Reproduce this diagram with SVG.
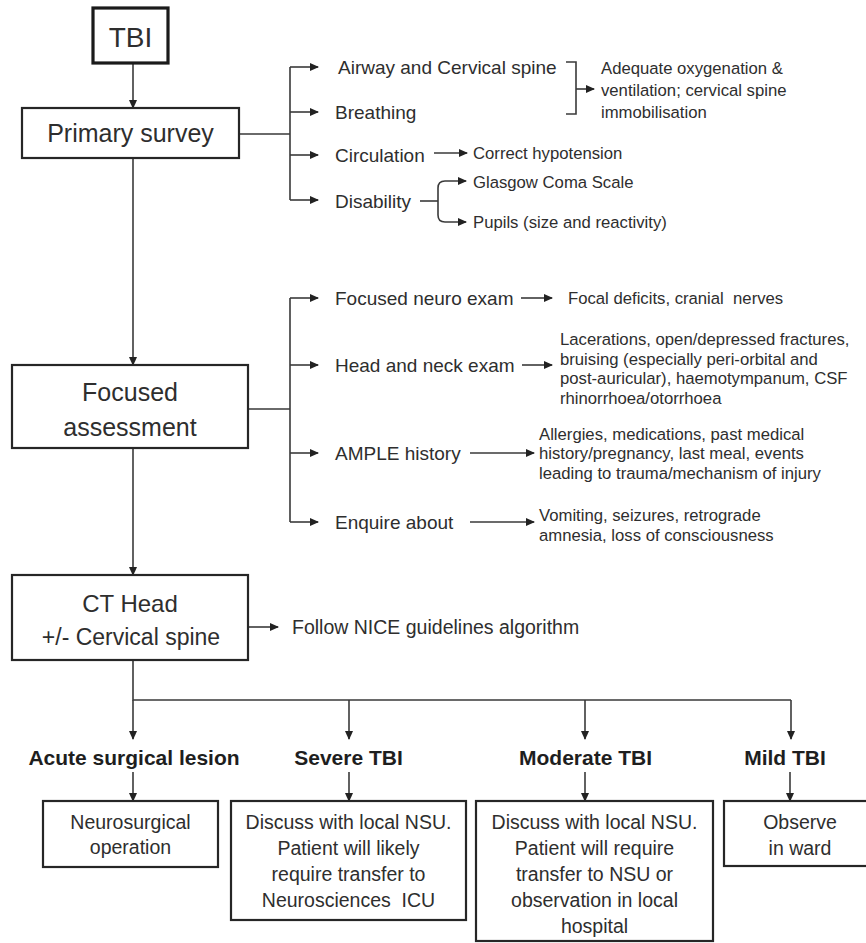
<svg xmlns="http://www.w3.org/2000/svg" width="866" height="943" viewBox="0 0 866 943">
<defs>
<marker id="ah" markerWidth="9" markerHeight="8" refX="8" refY="4" orient="auto" markerUnits="userSpaceOnUse">
<path d="M0,0 L9,4 L0,8 z" fill="#222"/>
</marker>
<style>
.box{fill:#fff;stroke:#262626;stroke-width:2.2}
.c{fill:none;stroke:#3a3a3a;stroke-width:1.6}
.a{marker-end:url(#ah)}
text{font-family:"Liberation Sans",Arial,sans-serif;fill:#2e2e2e;white-space:pre}
.big{font-size:25px;text-anchor:middle}
.lbl{font-size:19px}
.sm{font-size:16.7px}
.bt{font-size:19.5px;text-anchor:middle}
.hd{font-size:21px;font-weight:bold;text-anchor:middle;fill:#1e1e1e}
</style>
</defs>
<rect width="866" height="943" fill="#fff"/>

<g id="connectors">
<path class="c a" d="M133,63 V108"/>
<path class="c a" d="M133,158 V365"/>
<path class="c a" d="M133,448 V575"/>
<path class="c" d="M239,134 H290 M290,67 V200"/>
<path class="c a" d="M290,67 H318"/>
<path class="c a" d="M290,112 H318"/>
<path class="c a" d="M290,155 H318"/>
<path class="c a" d="M290,200 H318"/>
<path class="c" d="M566,62 H576 V114 H566"/>
<path class="c a" d="M576,89 H594"/>
<path class="c a" d="M434,153 H467"/>
<path class="c" d="M420,201 H438"/>
<path class="c a" d="M438,201 V188 Q438,181 445,181 H466"/>
<path class="c a" d="M438,201 V215 Q438,222 445,222 H466"/>
<path class="c" d="M248,409 H290 M290,298 V522"/>
<path class="c a" d="M290,298 H318"/>
<path class="c a" d="M290,365 H318"/>
<path class="c a" d="M290,453 H318"/>
<path class="c a" d="M290,522 H318"/>
<path class="c a" d="M521,298 H552"/>
<path class="c a" d="M522,365 H552"/>
<path class="c a" d="M470,453 H534"/>
<path class="c a" d="M470,522 H534"/>
<path class="c a" d="M248,627 H278"/>
<path class="c" d="M133,660 V700 H791"/>
<path class="c a" d="M133,700 V739"/>
<path class="c a" d="M349,700 V739"/>
<path class="c a" d="M585,700 V739"/>
<path class="c a" d="M791,700 V739"/>
<path class="c a" d="M133,772 V801"/>
<path class="c a" d="M349,772 V801"/>
<path class="c a" d="M585,772 V801"/>
<path class="c a" d="M790,772 V801"/>
</g>

<g id="tbi">
<rect x="93" y="8" width="75" height="55" fill="#fff" stroke="#1a1a1a" stroke-width="3.2"/>
<text x="130.5" y="47" style="font-size:28px;text-anchor:middle">TBI</text>
</g>

<g id="primary-survey">
<rect class="box" x="22" y="108" width="217" height="50"/>
<text class="big" x="130.5" y="142">Primary survey</text>
</g>

<g id="airway"><text class="lbl" x="338" y="74">Airway and Cervical spine</text></g>
<g id="breathing"><text class="lbl" x="335" y="119">Breathing</text></g>
<g id="circulation"><text class="lbl" x="335" y="162">Circulation</text></g>
<g id="disability"><text class="lbl" x="335" y="208">Disability</text></g>

<g id="oxygenation">
<text class="sm" x="601" y="74">Adequate oxygenation &amp;</text>
<text class="sm" x="601" y="96">ventilation; cervical spine</text>
<text class="sm" x="601" y="118">immobilisation</text>
</g>
<g id="hypotension"><text class="sm" x="473" y="159">Correct hypotension</text></g>
<g id="gcs"><text class="sm" x="473" y="188">Glasgow Coma Scale</text></g>
<g id="pupils"><text class="sm" x="473" y="228">Pupils (size and reactivity)</text></g>

<g id="focused-assessment">
<rect class="box" x="12" y="365" width="236" height="83"/>
<text class="big" x="130" y="401">Focused</text>
<text class="big" x="130" y="436">assessment</text>
</g>

<g id="neuro-exam"><text class="lbl" x="335" y="305">Focused neuro exam</text></g>
<g id="head-neck"><text class="lbl" x="335" y="372">Head and neck exam</text></g>
<g id="ample"><text class="lbl" x="335" y="460">AMPLE history</text></g>
<g id="enquire"><text class="lbl" x="335" y="529">Enquire about</text></g>

<g id="focal"><text class="sm" x="568" y="304">Focal deficits, cranial  nerves</text></g>
<g id="lacerations">
<text class="sm" x="560" y="345">Lacerations, open/depressed fractures,</text>
<text class="sm" x="560" y="364.5">bruising (especially peri-orbital and</text>
<text class="sm" x="560" y="384">post-auricular), haemotympanum, CSF</text>
<text class="sm" x="560" y="403.5">rhinorrhoea/otorrhoea</text>
</g>
<g id="allergies">
<text class="sm" x="539" y="439.5">Allergies, medications, past medical</text>
<text class="sm" x="539" y="459">history/pregnancy, last meal, events</text>
<text class="sm" x="539" y="478.5">leading to trauma/mechanism of injury</text>
</g>
<g id="vomiting">
<text class="sm" x="539" y="521">Vomiting, seizures, retrograde</text>
<text class="sm" x="539" y="541">amnesia, loss of consciousness</text>
</g>

<g id="ct-head">
<rect class="box" x="12" y="575" width="236" height="85"/>
<text x="130" y="611.5" style="font-size:24px;text-anchor:middle">CT Head</text>
<text x="131" y="645" style="font-size:23px;text-anchor:middle">+/- Cervical spine</text>
</g>
<g id="nice"><text x="292" y="634" style="font-size:19.5px">Follow NICE guidelines algorithm</text></g>

<g id="acute-label"><text class="hd" x="134" y="764.5">Acute surgical lesion</text></g>
<g id="severe-label"><text class="hd" x="348.5" y="764.5">Severe TBI</text></g>
<g id="moderate-label"><text class="hd" x="585.5" y="764.5">Moderate TBI</text></g>
<g id="mild-label"><text class="hd" x="785" y="764.5">Mild TBI</text></g>

<g id="neurosurgical">
<rect class="box" x="43" y="801" width="175" height="66"/>
<text class="bt" x="130.5" y="829">Neurosurgical</text>
<text class="bt" x="130.5" y="854">operation</text>
</g>
<g id="severe-box">
<rect class="box" x="231" y="801" width="235" height="119"/>
<text class="bt" x="348.5" y="829">Discuss with local NSU.</text>
<text class="bt" x="348.5" y="855">Patient will likely</text>
<text class="bt" x="348.5" y="881">require transfer to</text>
<text class="bt" x="348.5" y="907">Neurosciences  ICU</text>
</g>
<g id="moderate-box">
<rect class="box" x="476" y="801" width="237" height="140"/>
<text class="bt" x="594.5" y="829">Discuss with local NSU.</text>
<text class="bt" x="594.5" y="855">Patient will require</text>
<text class="bt" x="594.5" y="881">transfer to NSU or</text>
<text class="bt" x="594.5" y="907">observation in local</text>
<text class="bt" x="594.5" y="933">hospital</text>
</g>
<g id="mild-box">
<rect class="box" x="724" y="801" width="153" height="65"/>
<text class="bt" x="800" y="829">Observe</text>
<text class="bt" x="800" y="855">in ward</text>
</g>
</svg>
